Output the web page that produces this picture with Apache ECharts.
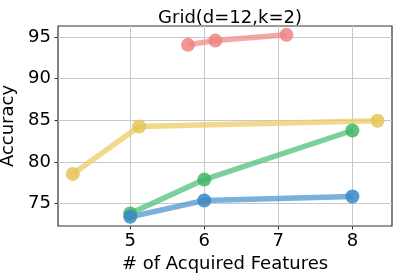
<!DOCTYPE html>
<html><head><meta charset="utf-8">
<script src="https://cdn.jsdelivr.net/npm/echarts@6/dist/echarts.min.js"></script>
<style>html,body{margin:0;padding:0;background:#fff}#c{width:399px;height:279px}</style>
</head><body><div id="c"></div>
<script>
const xTicks = [5, 6, 7, 8];
const yTicks = [75, 80, 85, 90, 95];
const redSeries = [[5.78, 94.04], [6.15, 94.55], [7.11, 95.24]];
const yellowSeries = [[4.225, 78.55], [5.12, 84.24], [8.34, 84.93]];
const greenSeries = [[5.0, 73.8], [6.0, 77.87], [8.0, 83.76]];
const blueSeries = [[5.0, 73.4], [6.0, 75.36], [8.0, 75.84]];

const chart = echarts.init(document.getElementById('c'), null, {renderer: 'canvas'});
const font = 'DejaVu Sans';
function mk(data, line, mark) {
  return {
    type: 'line', data: data, symbol: 'circle', symbolSize: 14,
    lineStyle: {color: line, width: 5.5, opacity: 0.75},
    itemStyle: {color: mark, opacity: 0.85},
    emphasis: {disabled: true}, animation: false, z: 3
  };
}
chart.setOption({
  animation: false,
  title: {text: 'Grid(d=12,k=2)', left: 225, top: 4, textAlign: 'center',
    textStyle: {fontFamily: font, fontSize: 18, fontWeight: 'normal', color: '#000'}},
  grid: {left: 58, top: 26, width: 334, height: 200, show: true, borderColor: '#333', borderWidth: 1.2,
    containLabel: false, outerBoundsMode: 'none'},
  xAxis: {type: 'value', min: 4.025, max: 8.535,
    name: '# of Acquired Features', nameLocation: 'middle', nameGap: 28,
    nameTextStyle: {fontFamily: font, fontSize: 18, color: '#000'},
    axisLine: {show: false},
    axisTick: {show: true, customValues: xTicks, length: 3.5, lineStyle: {color: '#333', width: 1}},
    axisLabel: {customValues: xTicks, fontFamily: font, fontSize: 18, color: '#000', margin: 6},
    splitLine: {show: true, lineStyle: {color: '#c8c8c8', width: 1}}},
  yAxis: {type: 'value', min: 72.3, max: 96.3,
    name: 'Accuracy', nameLocation: 'middle', nameGap: 35,
    nameTextStyle: {fontFamily: font, fontSize: 18, color: '#000'},
    axisLine: {show: false},
    axisTick: {show: true, customValues: yTicks, length: 3.5, lineStyle: {color: '#333', width: 1}},
    axisLabel: {customValues: yTicks, fontFamily: font, fontSize: 18, color: '#000', margin: 7},
    splitLine: {show: true, lineStyle: {color: '#c8c8c8', width: 1}}},
  series: [
    mk(redSeries, '#f08c8c', '#ee8585'),
    mk(yellowSeries, '#ebcb66', '#e6c458'),
    mk(greenSeries, '#4fc07c', '#43b568'),
    mk(blueSeries, '#4d96cc', '#3a88c4')
  ]
});
</script></body></html>
